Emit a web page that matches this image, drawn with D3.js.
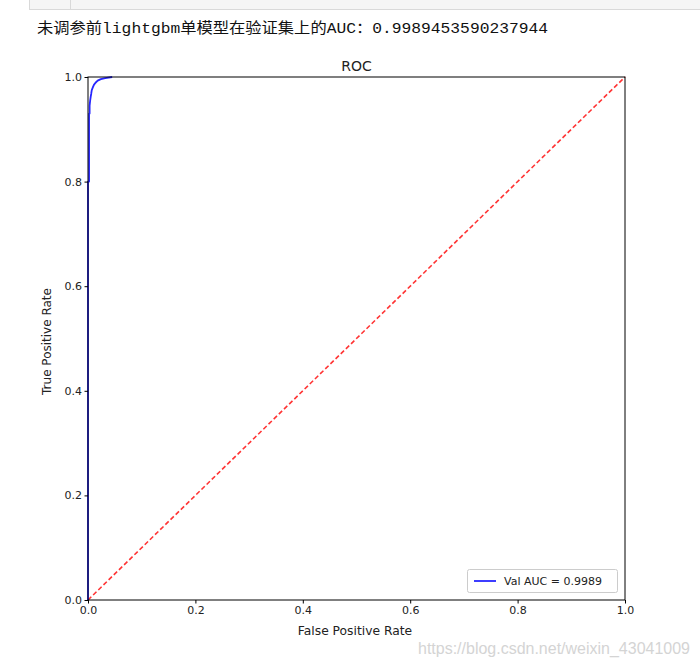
<!DOCTYPE html>
<html><head><meta charset="utf-8">
<script src="https://cdn.jsdelivr.net/npm/d3@7"></script>
<style>body{margin:0;background:#fff;}svg{display:block;}</style>
</head><body>
<script>
const headerText = "未调参前lightgbm单模型在验证集上的AUC：0.9989453590237944";
const fpr = [0, 0, 0.002, 0.002, 0.003, 0.003, 0.004, 0.005, 0.006, 0.007, 0.009, 0.011, 0.014, 0.018, 0.024, 0.032, 0.045];
const tpr = [0, 0.80, 0.80, 0.93, 0.93, 0.945, 0.955, 0.962, 0.968, 0.975, 0.980, 0.985, 0.989, 0.993, 0.996, 0.998, 1.0];
const diagX = [0, 1];
const diagY = [0, 1];
const ticks = [0, 0.2, 0.4, 0.6, 0.8, 1.0];
const legendLabel = "Val AUC = 0.9989";
const title = "ROC";
const xLabel = "False Positive Rate";
const yLabel = "True Positive Rate";
const watermark = "https://blog.csdn.net/weixin_43041009";

const W = 700, H = 665;
const svg = d3.select("body").append("svg").attr("width", W).attr("height", H);

// top toolbar remnant
svg.append("rect").attr("x", 29.5).attr("y", -1).attr("width", 680).attr("height", 10.5)
  .attr("fill", "#f5f5f5").attr("stroke", "#d9d9d9");
svg.append("line").attr("x1", 70.5).attr("x2", 70.5).attr("y1", 0).attr("y2", 9.5).attr("stroke", "#d9d9d9");

svg.append("text").attr("x", 37).attr("y", 33)
  .attr("font-family", "'Liberation Mono', 'Noto Sans CJK SC', monospace")
  .attr("font-size", 14.5).attr("fill", "#111")
  .attr("textLength", 511).attr("lengthAdjust", "spacingAndGlyphs")
  .text(headerText);

const x = d3.scaleLinear().domain([0, 1]).range([88, 625]);
const y = d3.scaleLinear().domain([0, 1]).range([600, 77]);

const font = "'DejaVu Sans', sans-serif";

// diagonal
svg.append("path").datum(diagX.map((d, i) => [d, diagY[i]]))
  .attr("d", d3.line().x(d => x(d[0])).y(d => y(d[1])))
  .attr("fill", "none").attr("stroke", "#ff0000").attr("stroke-opacity", 0.8)
  .attr("stroke-width", 1.6).attr("stroke-dasharray", "4.6,2.6");

// roc
svg.append("path").datum(fpr.map((d, i) => [d, tpr[i]]))
  .attr("d", d3.line().x(d => x(d[0])).y(d => y(d[1])))
  .attr("fill", "none").attr("stroke", "#0000ff").attr("stroke-opacity", 0.85)
  .attr("stroke-width", 1.8).attr("stroke-linejoin", "round");

// spines
svg.append("rect").attr("x", 88).attr("y", 77).attr("width", 537).attr("height", 523)
  .attr("fill", "none").attr("stroke", "#000").attr("stroke-width", 1);

const xAxis = svg.append("g").attr("transform", "translate(0,600)")
  .call(d3.axisBottom(x).tickValues(ticks).tickFormat(d3.format(".1f")).tickSize(3.5).tickPadding(2.5));
const yAxis = svg.append("g").attr("transform", "translate(88,0)")
  .call(d3.axisLeft(y).tickValues(ticks).tickFormat(d3.format(".1f")).tickSize(3.5).tickPadding(2.5));
[xAxis, yAxis].forEach(g => {
  g.select(".domain").remove();
  g.selectAll("line").attr("stroke", "#000");
  g.selectAll("text").attr("font-family", font).attr("font-size", 11).attr("fill", "#222");
});

svg.append("text").attr("x", 356.5).attr("y", 71).attr("text-anchor", "middle")
  .attr("font-family", font).attr("font-size", 14).attr("fill", "#222").text(title);
svg.append("text").attr("x", 355).attr("y", 635).attr("text-anchor", "middle")
  .attr("font-family", font).attr("font-size", 12.3).attr("fill", "#222").text(xLabel);
svg.append("text").attr("transform", "translate(51,341.5) rotate(-90)").attr("text-anchor", "middle")
  .attr("font-family", font).attr("font-size", 12).attr("fill", "#222").text(yLabel);

// legend
const lg = svg.append("g");
lg.append("rect").attr("x", 467.5).attr("y", 569.5).attr("width", 150).attr("height", 23).attr("rx", 2)
  .attr("fill", "#fff").attr("fill-opacity", 0.8).attr("stroke", "#cccccc");
lg.append("line").attr("x1", 474).attr("x2", 496).attr("y1", 581).attr("y2", 581)
  .attr("stroke", "#0000ff").attr("stroke-opacity", 0.85).attr("stroke-width", 1.8);
lg.append("text").attr("x", 504).attr("y", 585).attr("font-family", font).attr("font-size", 11)
  .attr("fill", "#222").text(legendLabel);

svg.append("text").attr("x", 418).attr("y", 654)
  .attr("font-family", "'Liberation Sans', Arial, sans-serif").attr("font-size", 16)
  .attr("fill", "#d4d4d4").attr("textLength", 272).attr("lengthAdjust", "spacingAndGlyphs")
  .text(watermark);
</script>
</body></html>
